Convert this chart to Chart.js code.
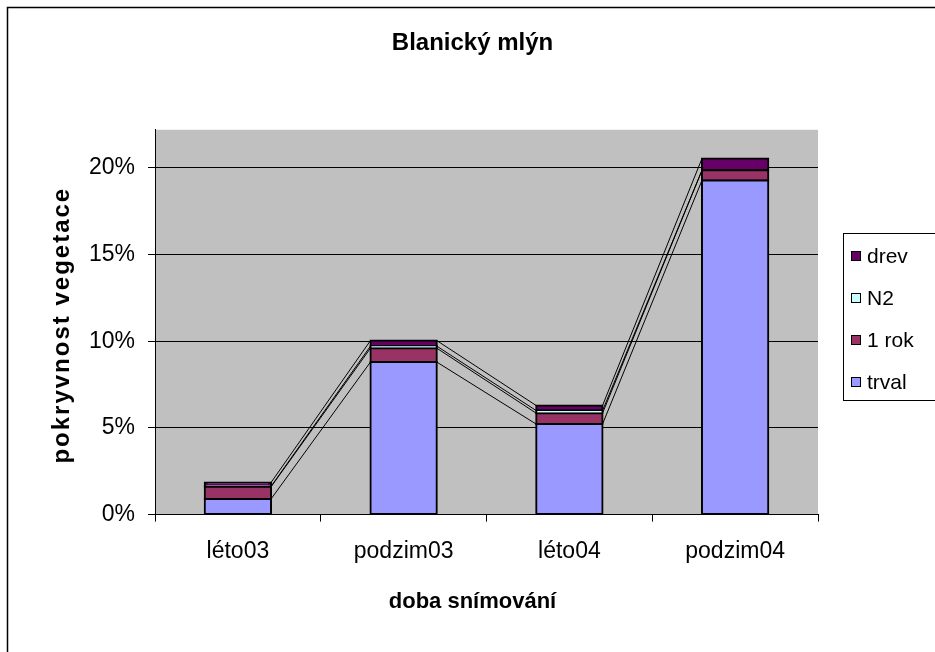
<!DOCTYPE html>
<html>
<head>
<meta charset="utf-8">
<title>Blanický mlýn</title>
<script src="https://cdn.jsdelivr.net/npm/chart.js@4.4.1/dist/chart.umd.min.js"></script>
<style>
  html, body { margin: 0; padding: 0; background: #fff; }
  #wrap { width: 935px; height: 652px; }
</style>
</head>
<body>
<div id="wrap"><canvas id="c" width="935" height="652"></canvas></div>
<script>
// Categories and stacked series (share of vegetation cover, as fractions)
const categories = ['léto03', 'podzim03', 'léto04', 'podzim04'];
const trval    = [0.0090, 0.0880, 0.0522, 0.1928];
const jedenRok = [0.0070, 0.0080, 0.0063, 0.0058];
const n2       = [0.0003, 0.0012, 0.0015, 0.0000];
const drev     = [0.0022, 0.0032, 0.0029, 0.0068];
const seriesNames = ['trval', '1 rok', 'N2', 'drev'];
const yTicks = [0, 0.05, 0.10, 0.15, 0.20];
const yMax = 0.222;
const chartTitle = 'Blanický mlýn';
const xTitle = 'doba snímování';
const yTitle = 'pokryvnost vegetace';

const FONT = '"Liberation Sans", Arial, sans-serif';
const colors = ['#9999FF', '#993366', '#CCFFFF', '#660066'];
const values = [trval, jedenRok, n2, drev];

// Gray plot area and the outer frame of the chart
const plotBackground = {
  id: 'plotBackground',
  beforeDraw(chart) {
    const { ctx, chartArea: a } = chart;
    ctx.save();
    ctx.fillStyle = '#fff';
    ctx.fillRect(0, 0, chart.width, chart.height);
    ctx.fillStyle = '#C0C0C0';
    ctx.fillRect(a.left, a.top, a.right - a.left, a.bottom - a.top);
    ctx.strokeStyle = '#000';
    ctx.lineWidth = 1.5;
    ctx.strokeRect(7.5, 7.5, chart.width + 50, chart.height + 50);
    ctx.restore();
  }
};

// Series lines joining the top of each stacked segment between neighbouring columns
const seriesLines = {
  id: 'seriesLines',
  afterDatasetsDraw(chart) {
    const ctx = chart.ctx;
    ctx.save();
    ctx.strokeStyle = '#000';
    ctx.lineWidth = 1;
    chart.data.datasets.forEach((ds, i) => {
      const meta = chart.getDatasetMeta(i);
      for (let j = 0; j < meta.data.length - 1; j++) {
        const a = meta.data[j], b = meta.data[j + 1];
        ctx.beginPath();
        ctx.moveTo(a.x + a.width / 2, a.y);
        ctx.lineTo(b.x - b.width / 2, b.y);
        ctx.stroke();
      }
    });
    ctx.restore();
  }
};

// Rotated value-axis title, set with a little extra letter spacing
const valueAxisTitle = {
  id: 'valueAxisTitle',
  afterDraw(chart) {
    const ctx = chart.ctx;
    const a = chart.chartArea;
    ctx.save();
    ctx.font = 'bold 24px ' + FONT;
    if ('letterSpacing' in ctx) ctx.letterSpacing = '2px';
    ctx.fillStyle = '#000';
    ctx.textAlign = 'center';
    ctx.textBaseline = 'middle';
    ctx.translate(62, (a.top + a.bottom) / 2 + 4);
    ctx.rotate(-Math.PI / 2);
    ctx.fillText(yTitle, 1, 0);
    ctx.restore();
  }
};

// Boxed legend on the right, listed from the top segment down
const boxLegend = {
  id: 'boxLegend',
  afterDraw(chart) {
    const ctx = chart.ctx;
    const items = chart.data.datasets.map(d => ({ label: d.label, color: d.backgroundColor })).reverse();
    const boxX = 843.5, boxY = 233.5, boxH = 167, rowTop = 256, rowStep = 42;
    ctx.save();
    ctx.strokeStyle = '#000';
    ctx.lineWidth = 1;
    ctx.strokeRect(boxX, boxY, 200, boxH);
    ctx.font = '21px ' + FONT;
    ctx.textBaseline = 'middle';
    ctx.textAlign = 'left';
    items.forEach((it, k) => {
      const cy = rowTop + k * rowStep;
      ctx.fillStyle = it.color;
      ctx.fillRect(851.5, cy - 4.5, 9, 9);
      ctx.strokeRect(851.5, cy - 4.5, 9, 9);
      ctx.fillStyle = '#000';
      ctx.fillText(it.label, 867, cy + 1);
    });
    ctx.restore();
  }
};

const datasets = seriesNames.map((name, i) => ({
  label: name,
  data: values[i],
  backgroundColor: colors[i],
  borderColor: '#000',
  borderWidth: 2,
  borderSkipped: false,
  inflateAmount: 1,
  categoryPercentage: 1,
  barPercentage: 0.4
}));

new Chart(document.getElementById('c'), {
  type: 'bar',
  data: { labels: categories, datasets },
  plugins: [plotBackground, seriesLines, valueAxisTitle, boxLegend],
  options: {
    responsive: false,
    devicePixelRatio: 1,
    animation: false,
    layout: { padding: { left: 10, right: 0, top: 0, bottom: 0 } },
    plugins: {
      legend: { display: false },
      tooltip: { enabled: false },
      title: {
        display: true,
        text: chartTitle,
        color: '#000',
        font: { family: FONT, size: 24, weight: 'bold' },
        padding: { top: 29, bottom: 72 }
      },
      subtitle: {
        display: true,
        position: 'bottom',
        text: xTitle,
        color: '#000',
        font: { family: FONT, size: 22, weight: 'bold' },
        padding: { top: 14, bottom: 37 }
      }
    },
    scales: {
      x: {
        stacked: true,
        offset: true,
        grid: { offset: true, drawOnChartArea: false, drawTicks: true, tickLength: 7, color: '#000' },
        border: { color: '#000', width: 1 },
        ticks: { color: '#000', font: { family: FONT, size: 23 }, padding: 16, maxRotation: 0 },
        afterFit(s) { s.height = 60; }
      },
      y: {
        stacked: true,
        min: 0,
        max: yMax,
        afterBuildTicks(s) { s.ticks = yTicks.map(v => ({ value: v })); },
        afterFit(s) { s.width = 145; },
        grid: { color: '#000', lineWidth: 1, tickLength: 7, drawTicks: true },
        border: { color: '#000', width: 1 },
        ticks: {
          color: '#000',
          font: { family: FONT, size: 23 },
          padding: 13,
          callback: v => Math.round(v * 100) + '%'
        },
        title: { display: false, text: yTitle }
      },
      yR: {
        position: 'right',
        display: true,
        grid: { display: false },
        border: { display: false },
        ticks: { display: false },
        afterFit(s) { s.width = 117; }
      }
    }
  }
});
</script>
</body>
</html>
